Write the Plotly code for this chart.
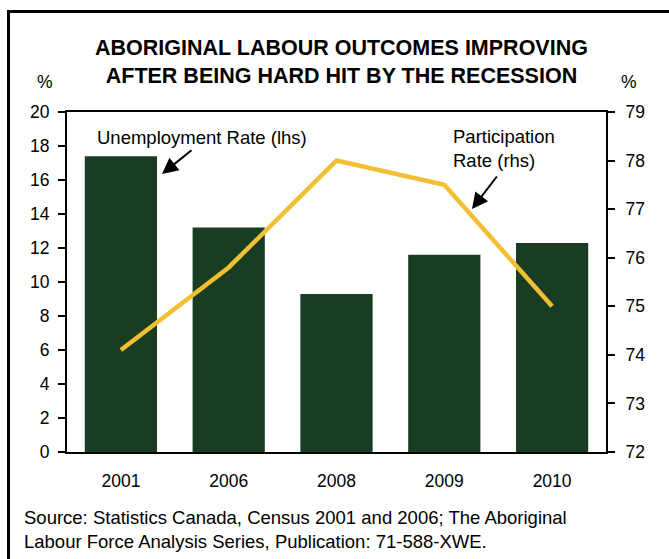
import plotly.graph_objects as go

years = ["2001", "2006", "2008", "2009", "2010"]
unemployment = [17.4, 13.2, 9.3, 11.6, 12.3]
participation = [74.1, 75.8, 78.0, 77.5, 75.0]

W, H = 669, 559
L, R, T, B = 67, 63, 112, 107
pw, ph = W - L - R, H - T - B

def px(x):
    return (x - L) / pw

def py(y):
    return (H - B - y) / ph

FONT = "Liberation Sans, Arial, sans-serif"
TXT = 18.5
TICK = 17.5

fig = go.Figure()
fig.add_trace(go.Bar(x=years, y=unemployment, marker_color="#183D22",
                     marker_line_width=0, yaxis="y", name="Unemployment Rate (lhs)"))
fig.add_trace(go.Scatter(x=years, y=participation, mode="lines", yaxis="y2",
                         line=dict(color="#F2BF33", width=4.5), name="Participation Rate (rhs)"))

fig.update_layout(
    width=W, height=H,
    margin=dict(l=L, r=R, t=T, b=B),
    paper_bgcolor="white", plot_bgcolor="white",
    showlegend=False,
    bargap=0.33,
    font=dict(family=FONT, size=TXT, color="black"),
    xaxis=dict(showline=True, linecolor="black", linewidth=2, mirror=True,
               ticks="", showgrid=False, ticklabelstandoff=12,
               tickfont=dict(size=TICK)),
    yaxis=dict(range=[0, 20], dtick=2, showline=True, linecolor="black", linewidth=2,
               ticks="outside", ticklen=7, tickwidth=2, tickcolor="black",
               showgrid=False, zeroline=False, ticklabelstandoff=5,
               tickfont=dict(size=TICK)),
    yaxis2=dict(range=[72, 79], dtick=1, overlaying="y", side="right",
                showline=True, linecolor="black", linewidth=2,
                ticks="outside", ticklen=7, tickwidth=2, tickcolor="black",
                showgrid=False, zeroline=False, ticklabelstandoff=7,
                tickfont=dict(size=TICK)),
)

# outer border
fig.add_shape(type="rect", xref="paper", yref="paper",
              x0=px(8.5), x1=px(720), y0=py(640), y1=py(11.5),
              line=dict(color="black", width=3), fillcolor="rgba(0,0,0,0)", layer="above")

# title
fig.add_annotation(xref="paper", yref="paper", x=px(341.5), y=py(61.5),
                   text="<b>ABORIGINAL LABOUR OUTCOMES IMPROVING<br>AFTER BEING HARD HIT BY THE RECESSION</b>",
                   showarrow=False, font=dict(size=21.5, family=FONT), align="center",
                   xanchor="center", yanchor="middle")

# percent labels
fig.add_annotation(xref="paper", yref="paper", x=px(45), y=py(82), text="%",
                   showarrow=False, font=dict(size=TICK), xanchor="center", yanchor="middle")
fig.add_annotation(xref="paper", yref="paper", x=px(629), y=py(82), text="%",
                   showarrow=False, font=dict(size=TICK), xanchor="center", yanchor="middle")

# series labels with arrows
fig.add_annotation(xref="paper", yref="paper", x=px(202), y=py(137),
                   text="Unemployment Rate (lhs)", showarrow=False,
                   font=dict(size=TXT), xanchor="center", yanchor="middle")
fig.add_annotation(xref="paper", yref="paper", axref="pixel", ayref="pixel",
                   x=px(162), y=py(174), ax=31, ay=-25, text="", showarrow=True,
                   arrowhead=2, arrowsize=1.6, arrowwidth=2, arrowcolor="black",
                   standoff=0)

fig.add_annotation(xref="paper", yref="paper", x=px(504), y=py(149),
                   text="Participation<br>Rate (rhs)", showarrow=False, align="left",
                   font=dict(size=TXT), xanchor="center", yanchor="middle")
fig.add_annotation(xref="paper", yref="paper", axref="pixel", ayref="pixel",
                   x=px(472), y=py(209), ax=26, ay=-34, text="", showarrow=True,
                   arrowhead=2, arrowsize=1.6, arrowwidth=2, arrowcolor="black",
                   standoff=0)

# source
fig.add_annotation(xref="paper", yref="paper", x=px(22), y=py(529),
                   text="Source: Statistics Canada, Census 2001 and 2006; The Aboriginal<br>Labour Force Analysis Series, Publication: 71-588-XWE.",
                   showarrow=False, align="left", font=dict(size=TXT),
                   xanchor="left", yanchor="middle")

fig.write_html("out.html", config={"displayModeBar": False},
               post_script="document.body.style.margin='0';document.body.style.overflow='hidden';")
